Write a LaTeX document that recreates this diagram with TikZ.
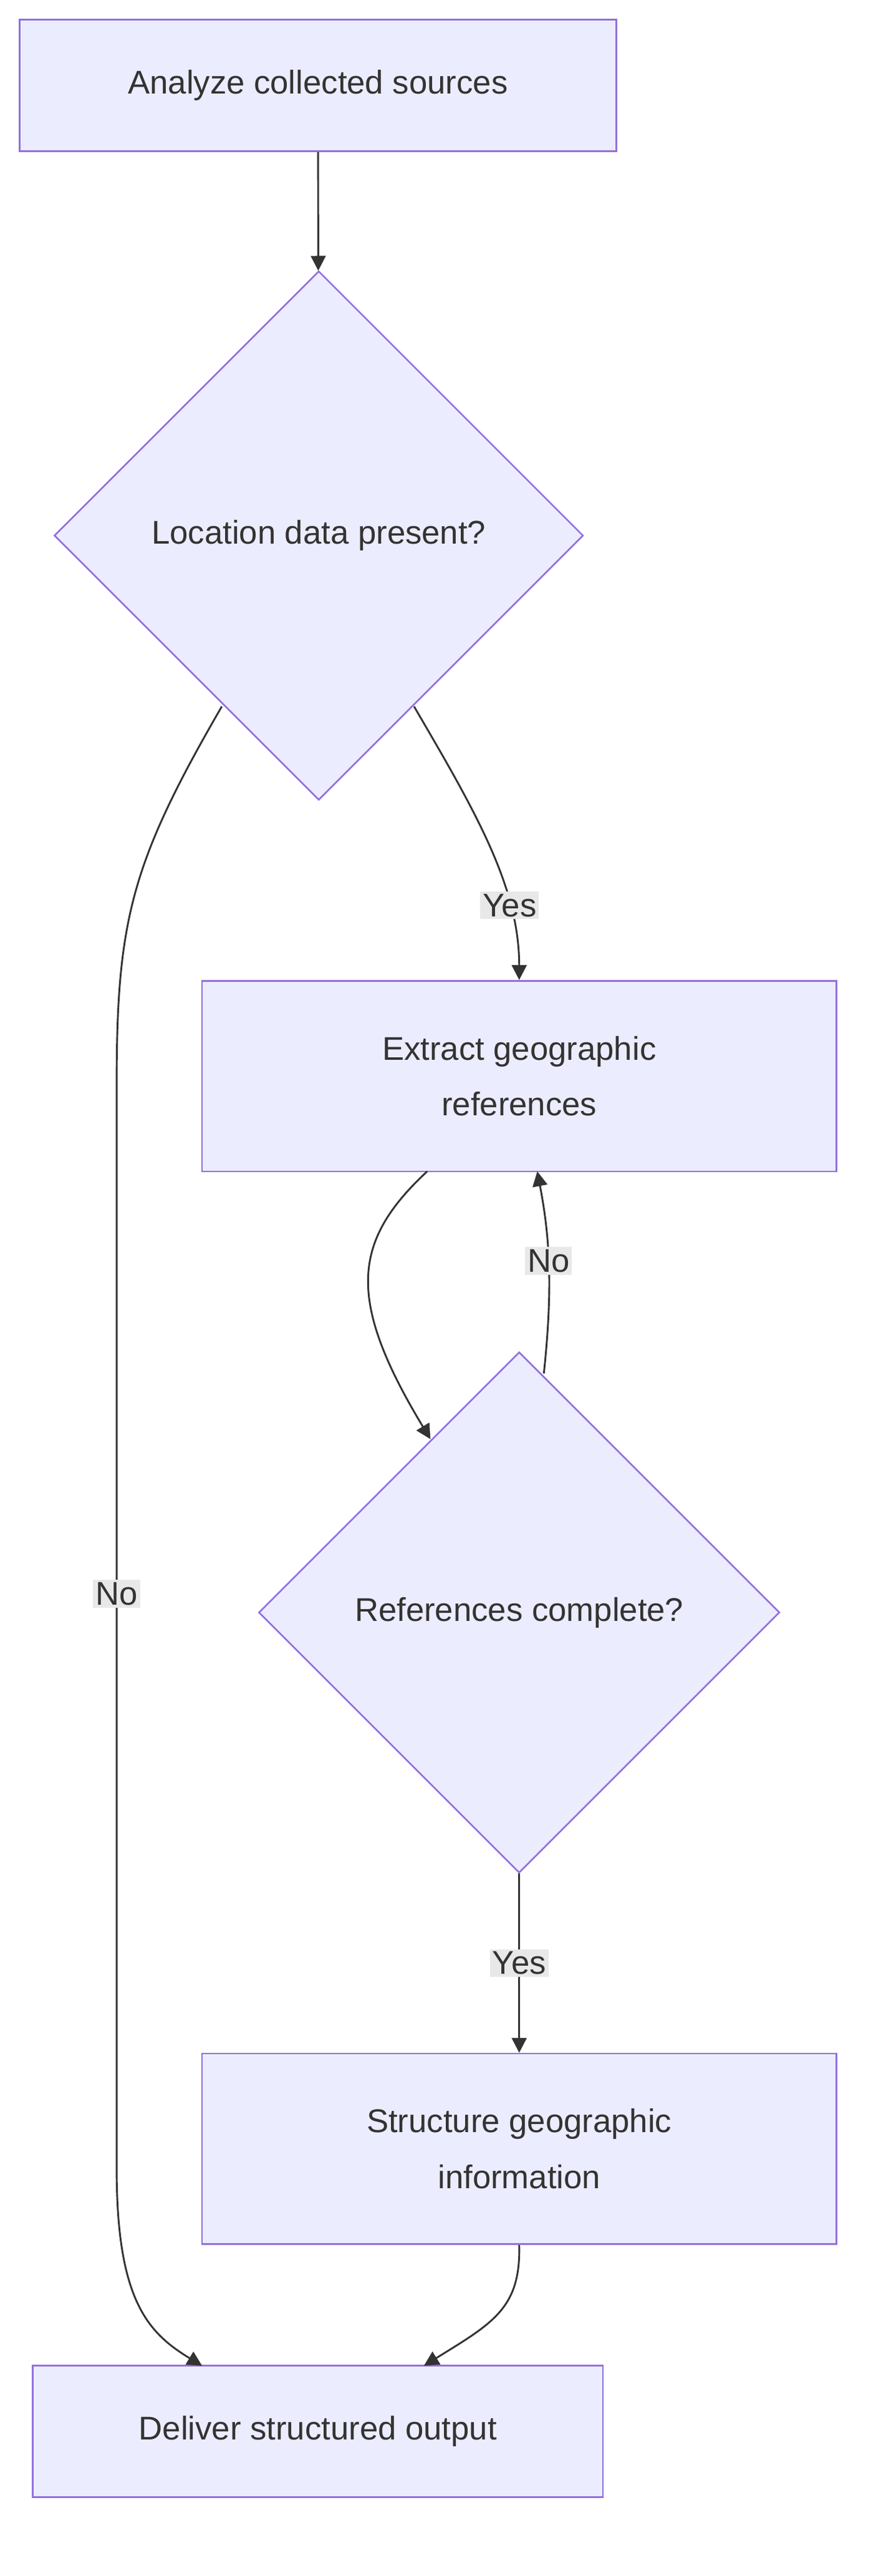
\documentclass[tikz,border=0pt]{standalone}
\usepackage{fontspec}
\setmainfont{Liberation Sans}
\usetikzlibrary{shapes.geometric,arrows.meta}
\definecolor{nfill}{HTML}{ECECFF}
\definecolor{nline}{HTML}{9370DB}
\definecolor{txt}{HTML}{333333}
\definecolor{lbg}{HTML}{E8E8E8}
\begin{document}
\begin{tikzpicture}[x=1pt,y=-1pt,
  box/.style={draw=nline,fill=nfill,line width=1pt,inner sep=0,text=txt,font=\fontsize{20}{34}\selectfont,align=center},
  dia/.style={draw=nline,fill=nfill,line width=1pt,diamond,inner sep=0,text=txt,font=\fontsize{20}{34}\selectfont},
  edge/.style={draw=txt,line width=1.1pt,-{Triangle[length=9pt,width=9pt]}},
  lab/.style={fill=lbg,text=txt,font=\fontsize{20}{24}\selectfont,inner sep=1.5pt}]
\useasboundingbox (0,0) rectangle (532.8,1568);
\node[box,minimum width=363pt,minimum height=80pt] (a) at (193.5,52) {Analyze collected sources};
\node[dia,minimum width=322pt,minimum height=322pt] (d1) at (194,326) {Location data present?};
\node[box,minimum width=386pt,minimum height=116pt] (b) at (316,655) {Extract geographic\\references};
\node[dia,minimum width=317pt,minimum height=317pt] (d2) at (316,981.5) {References complete?};
\node[box,minimum width=386pt,minimum height=116pt] (c) at (316,1308) {Structure geographic\\information};
\node[box,minimum width=347pt,minimum height=80pt] (e) at (193.5,1480) {Deliver structured output};
\coordinate (d1l) at (135,430);
\coordinate (d1r) at (252,430);
\coordinate (bl) at (260,713);
\coordinate (br) at (327,713);
\coordinate (d2s) at (262,876);
\coordinate (d2r) at (331,836);
\coordinate (el) at (123,1440);
\coordinate (er) at (258,1440);
\draw[edge] (a) -- (d1);
\draw[edge] (d1r) .. controls (290,495) and (316,540) .. node[lab,pos=0.72] {Yes} (b.north);
\draw[edge] (d1l) .. controls (80,525) and (71,560) .. (71,660) -- node[lab,pos=0.47] {No} (71,1320) .. controls (71,1400) and (90,1420) .. (el);
\draw[edge] (bl) .. controls (215,755) and (210,790) .. (d2s);
\draw[edge] (d2r) .. controls (337,780) and (334,750) .. node[lab,pos=0.5] {No} (br);
\draw[edge] (d2.south) -- node[lab] {Yes} (c.north);
\draw[edge] (c.south) .. controls (317,1405) and (300,1414) .. (er);
\end{tikzpicture}
\end{document}
